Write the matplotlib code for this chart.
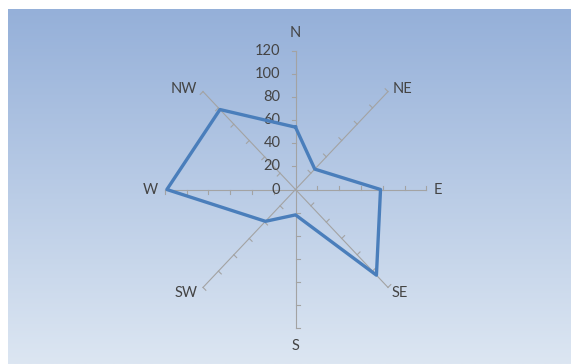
import numpy as np
import matplotlib.pyplot as plt
from matplotlib.colors import LinearSegmentedColormap

# Wind direction frequencies
directions = ["N", "NE", "E", "SE", "S", "SW", "W", "NW"]
values = [54, 25, 78, 105, 22, 39, 118, 98]
radial_ticks = [0, 20, 40, 60, 80, 100, 120]
r_max = 120

W, H = 573, 364
fig = plt.figure(figsize=(W / 100, H / 100), dpi=100)

# gradient backdrop
bg = fig.add_axes([8 / W, 0, (571 - 8) / W, (H - 9) / H])
grad = np.linspace(0, 1, 256).reshape(-1, 1)
cmap = LinearSegmentedColormap.from_list("bg", ["#95b0d9", "#dce6f2"])
bg.imshow(grad, aspect="auto", cmap=cmap, extent=[0, 1, 0, 1], origin="upper")
bg.axis("off")

# radar drawn on cartesian axes (pixels per unit differ slightly in x and y)
ax = fig.add_axes([0, 0, 1, 1])
ax.set_facecolor("none")
sx, sy = 1.09, 1.154
cx, cy = 295.5, H - 189.5
ax.set_xlim(-cx / sx, (W - cx) / sx)
ax.set_ylim(-cy / sy, (H - cy) / sy)
ax.axis("off")

angles = np.deg2rad(90 - 45 * np.arange(len(directions)))
grey = "#a3a3a3"
txt = "#444444"
font = ["Lato", "DejaVu Sans"]
fs = 10.5

for th in angles:
    c, s = np.cos(th), np.sin(th)
    ax.plot([0, r_max * c], [0, r_max * s], color=grey, lw=0.8, zorder=2)
    for t in radial_ticks[1:]:
        bx, by = t * c, t * s
        ax.plot([bx, bx - s * 4 / sx], [by, by + c * 4 / sy],
                color=grey, lw=0.8, zorder=2)

# value labels on the north spoke
for t in radial_ticks:
    ax.annotate(str(t), (0, t), xytext=(-15, 0), textcoords="offset pixels",
                ha="right", va="center", fontsize=fs, color=txt, family=font,
                zorder=3)

# direction labels
label_offsets = {
    "N": ((0, 18), "center"), "NE": ((5, 3), "left"), "E": ((7, 0), "left"),
    "SE": ((4, -6), "left"), "S": ((0, -18), "center"), "SW": ((-5, -6), "right"),
    "W": ((-7, 0), "right"), "NW": ((-6, 3), "right"),
}
for name, th in zip(directions, angles):
    off, ha = label_offsets[name]
    ax.annotate(name, (r_max * np.cos(th), r_max * np.sin(th)), xytext=off,
                textcoords="offset pixels", ha=ha, va="center",
                fontsize=fs, color=txt, family=font, zorder=3)

# data polygon, drawn above the labels
vals = np.array(values + values[:1], dtype=float)
ang = np.concatenate([angles, angles[:1]])
ax.plot(vals * np.cos(ang), vals * np.sin(ang), color="#4a7ebb", lw=2.4,
        solid_joinstyle="round", zorder=5)

fig.savefig("out.png", dpi=100)
